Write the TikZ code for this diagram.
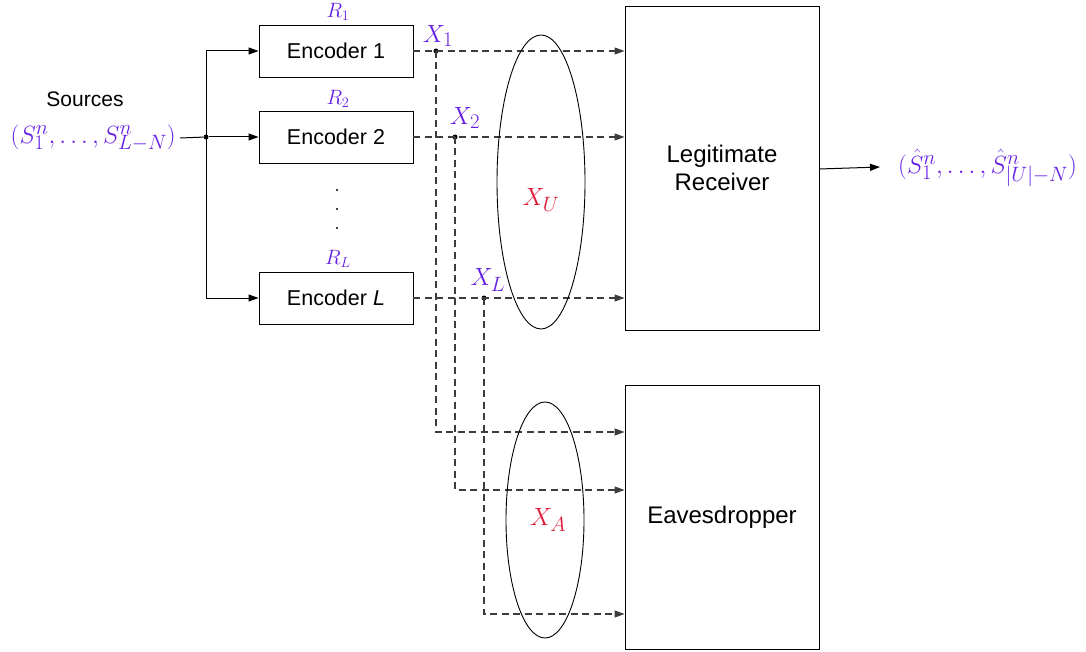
\documentclass[tikz,border=0pt]{standalone}
\usepackage{fontspec}
\setmainfont{Liberation Sans}
\usetikzlibrary{arrows.meta,calc}
\definecolor{pur}{RGB}{100,30,228}
\definecolor{crim}{RGB}{225,25,55}
\definecolor{dgray}{RGB}{60,60,60}
\tikzset{
  blk/.style={draw,line width=0.9pt,minimum width=154pt,minimum height=52pt,inner sep=0pt,font=\fontsize{21.5}{24}\selectfont},
  bigblk/.style={draw,line width=0.9pt,minimum width=194pt,inner sep=0pt,font=\fontsize{24}{28}\selectfont,align=center},
  arr/.style={-{Triangle[length=10pt,width=7pt]},line width=1pt},
  dsh/.style={line width=1.1pt,dash pattern=on 7pt off 4.5pt,dgray},
  darr/.style={dsh,-{Triangle[length=10pt,width=7pt]}},
  mlab/.style={text=pur,font=\fontsize{28}{32}\selectfont,inner sep=0pt},
  rlab/.style={text=pur,font=\fontsize{20}{24}\selectfont,inner sep=0pt},
  ulab/.style={text=crim,font=\fontsize{28}{32}\selectfont,inner sep=0pt},
  dotn/.style={circle,fill,inner sep=0pt,minimum size=5pt},
}
\begin{document}
\begin{tikzpicture}[x=1pt,y=-1pt]
\useasboundingbox (0,0) rectangle (1086,652);
% texts
\node[font=\fontsize{21}{24}\selectfont,inner sep=0pt] (srct) at (85,99) {Sources};
\node[mlab,anchor=east] (src) at (176,138) {$(S_1^n,\ldots,S_{L-N}^n)$};
% encoders
\node[blk] (e1) at (336,51) {Encoder 1};
\node[blk] (e2) at (336,137) {Encoder 2};
\node[blk] (eL) at (336,298) {Encoder \textit{L}};
\node[rlab] (r1) at (338,12) {$R_1$};
\node[rlab] (r2) at (338,99) {$R_2$};
\node[rlab] (rL) at (338,259) {$R_L$};
\node[dotn,minimum size=2.2pt] (d1) at (337,190) {};
\node[dotn,minimum size=2.2pt] (d2) at (337,209) {};
\node[dotn,minimum size=2.2pt] (d3) at (337,228) {};
% receivers
\node[bigblk,minimum height=324pt] (rec) at (722,168) {Legitimate\\Receiver};
\node[bigblk,minimum height=264pt] (eve) at (722,517) {Eavesdropper};
% split
\node[dotn] (sp) at (206,137) {};
\coordinate (sp1) at (206,51);
\coordinate (spL) at (206,298);
\draw[line width=1pt] (src.east) ++(4pt,0) -- (sp);
\draw[line width=1pt] (sp1) -- (spL);
\draw[arr] (sp1) -- (e1.west);
\draw[arr] (sp) -- (e2.west);
\draw[arr] (spL) -- (eL.west);
% branches
\node[dotn] (b1) at (436,51) {};
\node[dotn] (b2) at (455,137) {};
\node[dotn] (bL) at (484,298) {};
\draw[darr] (e1.east) -- (e1.east -| rec.west);
\draw[darr] (e2.east) -- (e2.east -| rec.west);
\draw[darr] (eL.east) -- (eL.east -| rec.west);
\coordinate (c1) at (436,432);
\coordinate (c2) at (455,490);
\coordinate (cL) at (484,614);
\draw[darr] (b1.center) -- (c1) -- (c1 -| eve.west);
\draw[darr] (b2.center) -- (c2) -- (c2 -| eve.west);
\draw[darr] (bL.center) -- (cL) -- (cL -| eve.west);
\node[mlab] (x1) at (438,36) {$X_1$};
\node[mlab] (x2) at (465,118) {$X_2$};
\node[mlab] (xL) at (488,280) {$X_L$};
% ellipses
\draw[line width=0.9pt] (541,182) ellipse [x radius=44pt, y radius=147pt];
\draw[line width=0.9pt] (545,520) ellipse [x radius=39pt, y radius=118pt];
\node[ulab] (xu) at (541,200) {$X_U$};
\node[ulab] (xa) at (548,520) {$X_A$};
% output
\coordinate (oe) at (880,167);
\draw[arr] (rec.east |- 0,169) -- (oe);
\node[mlab,anchor=west] (out) at (898,168) {$(\hat S_1^n,\ldots,\hat S_{|U|-N}^n)$};
\end{tikzpicture}
\end{document}
